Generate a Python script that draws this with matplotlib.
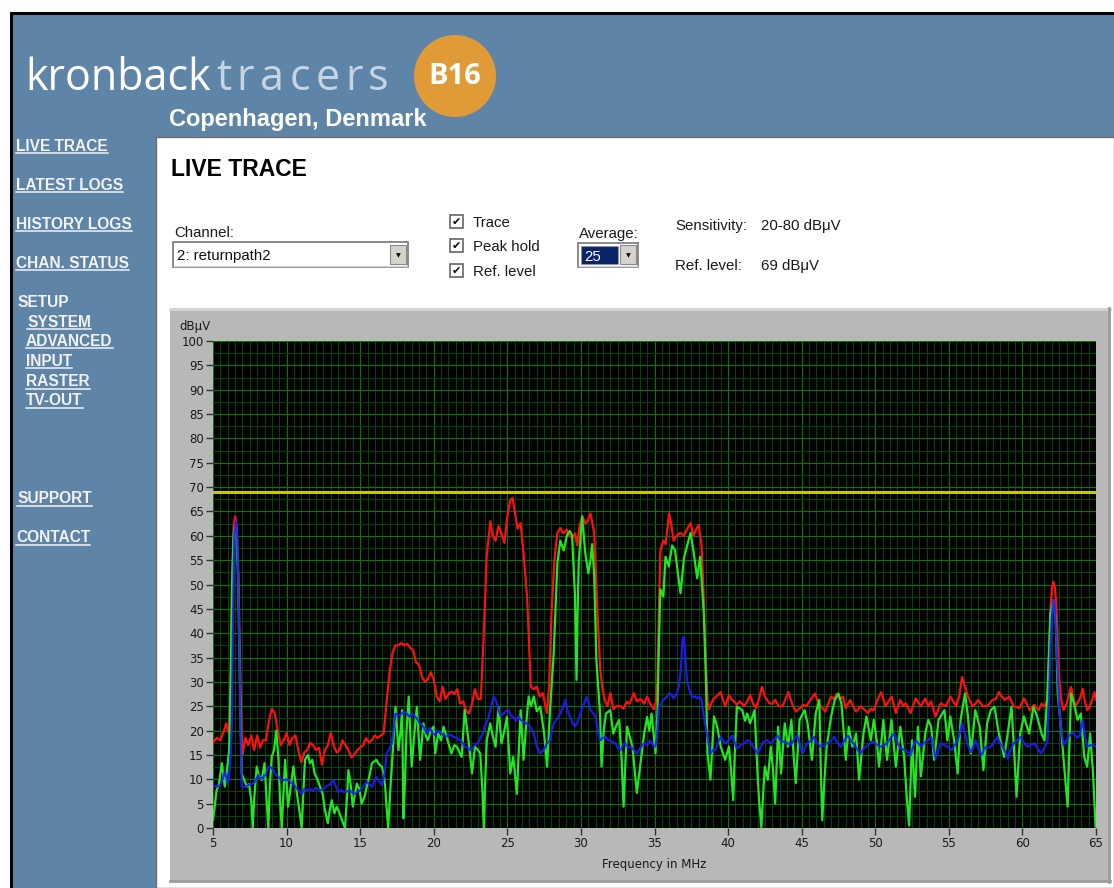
import matplotlib
matplotlib.use('Agg')
import numpy as np
import matplotlib.pyplot as plt
from matplotlib.patches import Rectangle, Circle
from matplotlib.ticker import MultipleLocator

# ---- values ----
ref_level = 69
sensitivity = (20, 80)
channel_name = "2: returnpath2"
average_count = 25

x_ticks = list(range(5, 66, 5))
y_ticks = list(range(0, 101, 5))

# peak hold (red), (MHz, dBuV)
peak_hold = [
    (5.0, 17.5), (5.25, 18.5), (5.5, 18), (5.75, 20), (5.9, 21.5), (6.0, 20), (6.1, 19.5), (6.2, 30),
    (6.3, 52), (6.4, 62), (6.5, 64), (6.6, 62), (6.7, 55), (6.8, 40), (6.9, 25), (7.0, 15),
    (7.2, 18.5), (7.4, 17), (7.6, 19), (7.8, 16), (8.0, 19), (8.2, 16.5), (8.4, 18), (8.6, 18),
    (8.8, 22), (9.0, 24.5), (9.2, 23.5), (9.4, 20), (9.6, 17), (9.8, 18), (10.0, 19.5), (10.2, 17),
    (10.4, 18.5), (10.6, 19), (10.8, 16), (11.0, 13.5), (11.2, 15.5), (11.4, 16), (11.6, 17.5), (11.8, 17),
    (12.0, 16), (12.2, 16.5), (12.4, 13), (12.6, 16), (12.8, 17), (13.0, 19.5), (13.2, 17), (13.4, 15.5),
    (13.6, 16), (13.8, 18), (14.0, 17), (14.2, 16), (14.4, 14.5), (14.6, 15), (14.8, 16), (15.0, 16.5),
    (15.2, 17), (15.4, 18.5), (15.6, 17.5), (15.8, 18), (16.0, 19), (16.2, 18.5), (16.4, 19), (16.6, 19.5),
    (16.8, 26), (17.0, 32), (17.2, 36), (17.4, 37.5), (17.6, 37.5), (17.8, 38), (18.0, 37.5), (18.2, 37.8),
    (18.4, 37), (18.6, 36.5), (18.8, 34), (19.0, 33.5), (19.2, 31), (19.4, 30), (19.6, 30.5), (19.8, 32),
    (20.0, 30.5), (20.2, 27), (20.4, 26), (20.6, 29), (20.8, 26.5), (21.0, 27.5), (21.2, 28), (21.4, 27.5),
    (21.6, 28.5), (21.8, 25.5), (22.0, 26), (22.2, 24), (22.4, 23.5), (22.6, 25.5), (22.8, 28.5), (23.0, 26.5),
    (23.2, 26.5), (23.4, 40), (23.6, 56), (23.85, 63), (24.0, 60), (24.2, 59), (24.4, 62), (24.6, 60.5),
    (24.8, 58.5), (25.0, 64), (25.2, 67.3), (25.35, 67.8), (25.5, 65), (25.7, 61.5), (25.9, 62.6), (26.1, 56.5),
    (26.35, 47), (26.6, 29), (26.8, 28.5), (27.0, 29), (27.2, 27), (27.4, 27.7), (27.7, 23.6), (27.85, 30),
    (28.0, 44), (28.2, 55), (28.4, 60.6), (28.6, 61.6), (28.8, 60.5), (29.05, 61.3), (29.2, 60), (29.4, 59.6),
    (29.6, 60.5), (29.75, 58), (29.9, 62), (30.1, 64), (30.3, 62.5), (30.45, 63), (30.65, 64.6), (30.9, 60.6),
    (31.1, 46), (31.3, 33), (31.45, 29), (31.6, 26.5), (31.8, 25), (32.0, 27.7), (32.2, 24.4), (32.4, 25),
    (32.7, 25), (32.9, 24.5), (33.1, 25.9), (33.3, 25.5), (33.6, 27.7), (33.8, 26), (34.05, 26.5), (34.3, 25.5),
    (34.5, 27), (34.7, 25.5), (34.95, 24.4), (35.1, 26), (35.2, 30.4), (35.3, 45), (35.4, 57), (35.6, 59),
    (35.75, 58.3), (36.0, 64.6), (36.15, 62), (36.3, 59), (36.5, 60), (36.75, 60.6), (37.0, 60), (37.2, 61.3),
    (37.45, 62.6), (37.65, 60), (37.85, 61.5), (38.0, 62.2), (38.2, 58), (38.35, 47), (38.45, 37), (38.6, 26),
    (38.7, 24.4), (38.85, 25.5), (39.0, 26.5), (39.2, 27), (39.5, 27.9), (39.8, 25), (40.06, 27.3), (40.2, 26.5),
    (40.4, 26), (40.6, 25.3), (40.8, 26), (41.1, 25), (41.3, 26), (41.5, 27.3), (41.7, 25.5), (41.9, 24.6),
    (42.1, 26.5), (42.3, 29), (42.5, 27), (42.8, 25.6), (43.0, 25.5), (43.2, 26.3), (43.45, 25), (43.7, 25),
    (43.9, 26.5), (44.1, 27.9), (44.35, 25.5), (44.6, 23.9), (44.9, 24.6), (45.1, 25.3), (45.3, 25), (45.6, 26.3),
    (45.9, 27.6), (46.1, 26), (46.3, 25), (46.6, 23.9), (46.8, 25.5), (47.0, 27), (47.2, 26.5), (47.4, 27.6),
    (47.6, 26.5), (47.8, 27), (48.0, 24.6), (48.3, 26.3), (48.5, 25), (48.7, 23.9), (49.0, 25), (49.2, 24.5),
    (49.5, 23.6), (49.7, 24.5), (49.9, 24.2), (50.1, 26), (50.4, 27.9), (50.7, 25), (50.9, 26), (51.1, 27),
    (51.4, 23.6), (51.7, 26.3), (51.9, 25), (52.07, 25.6), (52.4, 23.6), (52.75, 26.6), (53.1, 25), (53.4, 26.6),
    (53.6, 25), (53.8, 26), (54.1, 22.9), (54.45, 25.6), (54.8, 25), (55.1, 27), (55.3, 26), (55.5, 25),
    (55.7, 27), (55.9, 31), (56.1, 29), (56.3, 27), (56.6, 25), (56.8, 25.5), (57.0, 26.3), (57.3, 25),
    (57.6, 25), (57.97, 26.3), (58.2, 26.5), (58.4, 27.9), (58.6, 27), (58.8, 26.3), (59.1, 27), (59.4, 25),
    (59.8, 24.6), (60.1, 26.6), (60.3, 25.5), (60.5, 24.2), (60.8, 25.3), (61.1, 24.2), (61.3, 25.5), (61.5, 25),
    (61.7, 26.3), (61.8, 35), (61.9, 44.8), (62.0, 49), (62.1, 50.6), (62.2, 49.5), (62.3, 46), (62.4, 38),
    (62.5, 31), (62.65, 26), (62.8, 24.2), (63.0, 25.5), (63.3, 29), (63.45, 27), (63.6, 25), (63.9, 26.5),
    (64.1, 28.6), (64.25, 26), (64.4, 24.2), (64.6, 25), (64.9, 27.9), (65.0, 26.3),
]

# live trace (green)
trace = [
    (5.0, 1.7), (5.1, 4), (5.24, 7.7), (5.4, 9), (5.6, 13.3), (5.8, 8.5), (6.0, 13.3), (6.1, 16),
    (6.2, 30), (6.3, 50), (6.4, 60), (6.5, 62), (6.6, 60), (6.7, 52), (6.8, 35), (6.9, 18),
    (6.95, 11.2), (7.1, 10), (7.3, 8.5), (7.45, 9), (7.6, 5.7), (7.7, 0), (7.8, 6), (7.97, 12.6),
    (8.1, 11), (8.3, 9.8), (8.5, 13.3), (8.6, 8), (8.76, 0), (8.85, 8), (8.99, 14.7), (9.15, 16),
    (9.3, 20), (9.45, 14), (9.55, 6), (9.67, 0), (9.8, 8), (9.9, 14), (10.1, 4.4), (10.3, 9),
    (10.46, 12.6), (10.7, 7.1), (10.85, 4), (11.03, 0), (11.15, 8), (11.25, 14), (11.45, 15), (11.6, 13.3),
    (11.75, 14), (11.9, 11.2), (12.1, 10), (12.27, 8.5), (12.45, 7), (12.6, 3.8), (12.8, 1), (12.95, 4),
    (13.07, 5.7), (13.25, 3), (13.4, 4.4), (13.6, 3), (13.75, 1.7), (13.97, 0), (14.1, 6), (14.2, 11.9),
    (14.35, 9), (14.5, 4.4), (14.65, 7), (14.77, 9.1), (14.95, 8), (15.1, 5), (15.3, 6.5), (15.45, 8.5),
    (15.65, 11), (15.8, 13.3), (16.1, 14), (16.3, 13), (16.47, 12.6), (16.6, 11), (16.7, 8.5), (16.8, 4),
    (16.9, 0), (17.05, 8), (17.15, 12.6), (17.3, 20), (17.4, 24.9), (17.6, 16), (17.75, 20), (17.85, 24.2),
    (17.94, 2), (18.05, 10), (18.15, 20), (18.3, 27), (18.5, 12.6), (18.7, 20), (18.85, 24.9), (19.07, 14),
    (19.3, 21.5), (19.45, 19), (19.6, 18), (19.8, 20), (19.98, 20.8), (20.1, 15.3), (20.3, 19.4), (20.5, 18),
    (20.66, 20.8), (20.85, 19), (21.0, 17.4), (21.2, 15.3), (21.4, 17), (21.57, 16.7), (21.75, 15.5), (21.9, 14.6),
    (22.1, 24.2), (22.36, 18), (22.6, 11.2), (22.8, 16.7), (23.0, 16), (23.16, 15.3), (23.3, 8), (23.4, 0),
    (23.5, 10), (23.6, 18), (23.84, 21.5), (24.0, 19), (24.2, 16.7), (24.4, 24.9), (24.6, 17.4), (24.8, 20),
    (24.97, 22.8), (25.2, 11.2), (25.4, 14.6), (25.65, 7), (25.9, 24.2), (26.1, 14), (26.3, 22), (26.45, 27),
    (26.6, 25), (26.8, 27), (27.0, 24), (27.24, 24.9), (27.5, 19.4), (27.7, 12.6), (27.9, 24.2), (28.15, 35.8),
    (28.4, 54.4), (28.6, 59), (28.83, 57), (29.06, 60.2), (29.25, 61), (29.4, 60), (29.6, 47.5), (29.7, 30.4),
    (29.78, 45), (29.85, 54.4), (30.08, 64), (30.3, 56.4), (30.5, 52.3), (30.65, 55), (30.76, 58.3), (30.9, 52),
    (31.0, 40.6), (31.05, 34.5), (31.2, 28), (31.3, 23.5), (31.4, 12.6), (31.55, 20), (31.7, 23.5), (32.0, 24.2),
    (32.2, 19.4), (32.4, 21), (32.6, 22.2), (32.75, 15), (32.9, 4.4), (33.0, 12), (33.14, 20.8), (33.3, 19),
    (33.5, 16.7), (33.65, 12), (33.8, 7.2), (34.05, 13.3), (34.3, 19.4), (34.5, 22.8), (34.65, 20), (34.8, 23.5),
    (35.07, 15.3), (35.2, 23.5), (35.3, 38), (35.4, 49), (35.6, 47.5), (35.75, 55.7), (35.97, 53.7), (36.2, 58),
    (36.4, 57), (36.6, 52), (36.77, 48.2), (37.0, 55.4), (37.2, 57.8), (37.45, 60.6), (37.67, 56.4), (37.9, 51.3),
    (38.1, 55.7), (38.35, 44), (38.5, 30), (38.6, 15.3), (38.8, 9.9), (39.04, 22.9), (39.26, 20.8), (39.5, 16.7),
    (39.8, 14), (40.06, 16.7), (40.2, 12), (40.35, 5.7), (40.45, 15), (40.6, 24.9), (40.96, 24.2), (41.15, 22),
    (41.3, 23.5), (41.5, 21.5), (41.8, 24.2), (42.0, 11.2), (42.1, 6), (42.26, 0.2), (42.4, 8), (42.5, 12.6),
    (42.7, 9.9), (42.9, 16.7), (43.05, 12), (43.2, 5), (43.4, 20.8), (43.6, 11.2), (43.85, 21.5), (44.07, 16.7),
    (44.3, 22.2), (44.45, 15), (44.6, 9.2), (44.86, 22.2), (45.2, 24.2), (45.4, 21.5), (45.7, 14), (45.95, 23.5),
    (46.2, 26.3), (46.3, 12), (46.4, 1.6), (46.55, 10), (46.7, 16.7), (47.0, 22.9), (47.25, 26.3), (47.5, 27.6),
    (47.7, 25.6), (47.85, 20), (48.0, 14), (48.2, 20.8), (48.45, 16.7), (48.7, 19.4), (48.9, 9.9), (49.2, 19.4),
    (49.4, 22.9), (49.7, 18), (49.9, 22.2), (50.1, 18), (50.26, 12.6), (50.55, 22.2), (50.8, 14), (51.1, 22.2),
    (51.4, 12.6), (51.7, 20.8), (51.96, 14.6), (52.15, 6), (52.3, 0.5), (52.5, 18), (52.7, 6.4), (52.9, 20.8),
    (53.1, 10.6), (53.4, 19.4), (53.6, 22.2), (53.8, 20.8), (54.0, 14), (54.3, 22.2), (54.7, 24.2), (54.9, 18),
    (55.1, 22.9), (55.36, 18), (55.6, 11.2), (55.8, 22.2), (56.1, 27.6), (56.3, 22.9), (56.5, 15.3), (56.8, 24.2),
    (57.1, 20.8), (57.35, 11.9), (57.6, 21.5), (57.85, 24.2), (58.1, 24.9), (58.4, 19.4), (58.76, 14.6), (59.0, 19.4),
    (59.26, 24.9), (59.45, 15), (59.6, 6.4), (59.85, 19.4), (60.1, 22.9), (60.46, 19.4), (60.75, 24.9), (61.0, 22.9),
    (61.3, 19.4), (61.5, 18), (61.7, 27.6), (61.9, 44), (62.1, 46.8), (62.27, 42.7), (62.4, 27.6), (62.6, 21.5),
    (62.8, 14), (63.07, 4.4), (63.3, 27.6), (63.5, 25.6), (63.75, 22.2), (63.97, 23.5), (64.2, 14.6), (64.4, 12.6),
    (64.6, 19.4), (64.8, 11.2), (64.97, 0.3),
]

# average (blue)
average = [
    (5.0, 8.8), (5.25, 8.5), (5.5, 8.8), (5.65, 10), (5.8, 11.6), (6.0, 9.1), (6.15, 12), (6.27, 19.4),
    (6.35, 40), (6.45, 60), (6.55, 63), (6.65, 60), (6.75, 45), (6.85, 25), (6.95, 8.5), (7.2, 8.5),
    (7.4, 8.8), (7.6, 9), (7.85, 9.5), (8.08, 10.9), (8.25, 10), (8.4, 10.5), (8.6, 11), (8.76, 12.6),
    (8.9, 12.5), (9.1, 11.9), (9.25, 11), (9.44, 10.5), (9.6, 10), (9.78, 9.8), (10.0, 10), (10.2, 9.5),
    (10.45, 9), (10.7, 8.1), (10.9, 7.5), (11.03, 7), (11.2, 8), (11.37, 7.7), (11.6, 8), (11.8, 7.7),
    (12.0, 8.2), (12.27, 7.7), (12.5, 8), (12.7, 8.5), (12.95, 9), (13.18, 9.8), (13.35, 8.5), (13.5, 7.4),
    (13.7, 7.8), (13.86, 7.4), (14.1, 7.5), (14.3, 7.7), (14.5, 7.2), (14.65, 7), (14.85, 7.5), (15.0, 7.7),
    (15.2, 8.5), (15.45, 9.5), (15.6, 9), (15.8, 8.5), (15.95, 9.5), (16.1, 10.5), (16.3, 9.5), (16.47, 8.8),
    (16.65, 11), (16.8, 15.3), (16.95, 16), (17.15, 17.4), (17.3, 21), (17.4, 23.5), (17.55, 23), (17.7, 23.2),
    (17.95, 23.8), (18.17, 23.5), (18.35, 22.8), (18.5, 23.5), (18.7, 23), (18.85, 22.5), (19.05, 21.5), (19.3, 20.8),
    (19.5, 19.5), (19.75, 20.5), (19.9, 19.5), (20.1, 19.1), (20.25, 20), (20.4, 19.8), (20.65, 19), (20.9, 18.8),
    (21.1, 19.2), (21.3, 18.8), (21.55, 18.5), (21.8, 18), (21.95, 17.5), (22.1, 16.7), (22.3, 16.5), (22.5, 16),
    (22.65, 16.5), (22.8, 17), (23.0, 17.5), (23.16, 18.4), (23.35, 19.5), (23.5, 21.1), (23.7, 22.5), (23.84, 24.2),
    (24.07, 27), (24.25, 26), (24.4, 24.2), (24.55, 23), (24.75, 23.5), (24.9, 24), (25.1, 24.2), (25.25, 23),
    (25.4, 22.8), (25.6, 22), (25.75, 23), (25.9, 22.2), (26.1, 21.8), (26.3, 21.5), (26.5, 21), (26.65, 20.2),
    (26.8, 19.4), (27.0, 16.7), (27.24, 15.3), (27.45, 16), (27.7, 17.4), (27.9, 18), (28.15, 21.5), (28.4, 22.5),
    (28.6, 23.5), (28.8, 25), (28.95, 26.3), (29.1, 24), (29.3, 22.5), (29.45, 21.5), (29.6, 20.8), (29.8, 22),
    (29.96, 23.5), (30.2, 25.5), (30.4, 26.9), (30.55, 25.5), (30.65, 24.2), (30.85, 23.5), (31.0, 22.8), (31.15, 20),
    (31.3, 18), (31.5, 18.5), (31.7, 18.7), (31.85, 18), (32.0, 18), (32.2, 17.5), (32.35, 17.4), (32.5, 16.5),
    (32.7, 16), (32.85, 17), (33.0, 17.4), (33.2, 16.5), (33.4, 16.7), (33.6, 16), (33.8, 15.3), (34.05, 16.5),
    (34.3, 17.4), (34.5, 17), (34.7, 18), (34.9, 17), (35.07, 16.7), (35.2, 20), (35.3, 24.9), (35.45, 25.5),
    (35.6, 26.3), (35.8, 26.8), (35.97, 27.6), (36.15, 27.4), (36.3, 26.6), (36.5, 27.5), (36.65, 29), (36.8, 33),
    (36.9, 38.6), (37.0, 39.3), (37.1, 35), (37.2, 30.4), (37.4, 28), (37.56, 26.9), (37.75, 27), (37.9, 26.6),
    (38.05, 27), (38.2, 26.3), (38.4, 22), (38.6, 18.7), (38.8, 15.3), (38.95, 16), (39.15, 16), (39.3, 17.5),
    (39.5, 18.7), (39.65, 18), (39.8, 17.4), (40.05, 18), (40.3, 19), (40.45, 17.5), (40.6, 16.3), (40.85, 17),
    (41.1, 17.4), (41.3, 18), (41.5, 17.7), (41.75, 16.5), (42.0, 15.3), (42.2, 16.5), (42.4, 17.7), (42.65, 18),
    (42.9, 17.4), (43.1, 18), (43.35, 19), (43.55, 18), (43.8, 17.7), (44.0, 17.5), (44.25, 17), (44.45, 18),
    (44.7, 19), (44.9, 17), (45.05, 15.3), (45.3, 17), (45.5, 17.7), (45.7, 18), (45.84, 18.7), (46.05, 17.5),
    (46.3, 16.7), (46.55, 17), (46.75, 17.4), (47.0, 18), (47.2, 18.7), (47.45, 17.5), (47.65, 16.7), (47.9, 18),
    (48.1, 19), (48.35, 18), (48.6, 17), (48.8, 16), (49.0, 15.3), (49.25, 16.5), (49.5, 17), (49.7, 17.5),
    (49.9, 17.7), (50.15, 17), (50.4, 16.7), (50.6, 17), (50.8, 17.4), (51.05, 18.5), (51.3, 19.4), (51.5, 17.5),
    (51.73, 16.3), (52.07, 16), (52.4, 15), (52.55, 16.5), (52.75, 18), (52.9, 17.5), (53.1, 16.7), (53.4, 17.7),
    (53.6, 18), (53.8, 18.7), (54.0, 16), (54.1, 14.3), (54.3, 16), (54.45, 17.4), (54.7, 17), (54.9, 16.7),
    (55.2, 16), (55.4, 17), (55.6, 18), (55.75, 19.5), (55.9, 21.5), (56.15, 18.7), (56.3, 17), (56.5, 15.6),
    (56.65, 16.5), (56.8, 18), (57.0, 16.5), (57.2, 15), (57.5, 16.7), (57.7, 16.5), (57.85, 16.7), (58.05, 17.5),
    (58.3, 18.7), (58.45, 17.5), (58.65, 16.7), (58.85, 15.5), (59.0, 14.3), (59.2, 16), (59.4, 17.4), (59.65, 18),
    (59.9, 18.7), (60.1, 17.5), (60.35, 16.7), (60.55, 17), (60.8, 17.4), (61.0, 16.5), (61.25, 15.3), (61.5, 16.5),
    (61.7, 17.7), (61.8, 25), (61.9, 36.5), (62.0, 43), (62.1, 46.8), (62.2, 45), (62.27, 41.3), (62.4, 32),
    (62.5, 24.2), (62.65, 20), (62.8, 17), (63.0, 18), (63.2, 19), (63.35, 19.5), (63.5, 19.4), (63.7, 18.5),
    (63.9, 19), (64.1, 22.2), (64.25, 19), (64.4, 16.7), (64.6, 17), (64.8, 17), (65.0, 16.7),
]

# ---- page layout (pixel coordinates) ----
W, H = 1114, 888
BLUE = '#5e84a8'
BOLD = dict(family='Liberation Sans', weight='bold')
REG = dict(family='Liberation Sans')
INK = '#1a1a1a'

fig = plt.figure(figsize=(W / 100, H / 100), dpi=100)
fig.patch.set_facecolor('white')
bg = fig.add_axes([0, 0, 1, 1])
bg.set_xlim(0, W)
bg.set_ylim(H, 0)
bg.axis('off')
rend = fig.canvas.get_renderer()
inv = bg.transData.inverted()


def text_width(t):
    bb = t.get_window_extent(rend)
    return inv.transform((bb.x1, 0))[0] - inv.transform((bb.x0, 0))[0]


def spaced_text(x, y, s, gap, **kw):
    # draws a word letter by letter with extra tracking, like the logo
    for ch in s:
        t = bg.text(x, y, ch, **kw)
        x += text_width(t) + gap


# header / nav background with the black frame
bg.add_patch(Rectangle((10, 12), W - 10, H - 12, fc=BLUE, ec='none'))
bg.plot([11, 11], [12, H], color='black', lw=2.2, solid_capstyle='butt')
bg.plot([10, W], [13, 13], color='black', lw=2.2, solid_capstyle='butt')
# white content box
bg.add_patch(Rectangle((156, 137), W - 156, H - 137, fc='white', ec='#6f6f6f', lw=1))

# logo
bg.text(25, 90, 'kronback', color='white', fontsize=31, family='Open Sans', va='baseline')
spaced_text(216, 90, 'tracers', 5.5, color='#c7d4e1', fontsize=31, family='Open Sans',
            va='baseline')
bg.add_patch(Circle((455, 76), 41, fc='#e09a36', ec='none'))
bg.text(455, 77, 'B16', color='white', fontsize=21, family='Open Sans', weight='bold',
        ha='center', va='center')
bg.text(169, 126, 'Copenhagen, Denmark', color='white', fontsize=17, va='baseline', **BOLD)

# navigation
nav = [('LIVE TRACE', 16, 151, True), ('LATEST LOGS', 16, 190, True),
       ('HISTORY LOGS', 16, 229, True), ('CHAN. STATUS', 16, 268, True),
       ('SETUP', 17, 307, False), ('SYSTEM', 27, 327, True), ('ADVANCED', 26, 346, True),
       ('INPUT', 26, 366, True), ('RASTER', 26, 386, True), ('TV-OUT', 26, 405, True),
       ('SUPPORT', 17, 503, True), ('CONTACT', 16, 542, True)]
for label, x, y, ul in nav:
    t = bg.text(x, y, label, color='#f2f2f2', fontsize=11.2, va='baseline', **BOLD)
    if ul:
        bg.plot([x, x + text_width(t)], [y + 2.5, y + 2.5], color='#f2f2f2', lw=1.1)

# controls
bg.text(171, 176, 'LIVE TRACE', color='black', fontsize=16.5, va='baseline', **BOLD)
bg.text(174, 237, 'Channel:', color=INK, fontsize=10.8, va='baseline', **REG)


def field(x0, y0, x1, y1):
    bg.add_patch(Rectangle((x0, y0), x1 - x0, y1 - y0, fc='white', ec='#777777', lw=1.2))
    bg.plot([x0 + 1, x1 - 1], [y1 - 1, y1 - 1], color='#d8d8d8', lw=1)


def arrow_button(x0, y0, x1, y1):
    bg.add_patch(Rectangle((x0, y0), x1 - x0, y1 - y0, fc='#d6d3ce', ec='#8a8a8a', lw=0.8))
    bg.text((x0 + x1) / 2, (y0 + y1) / 2 + 1, '\u25BC', fontsize=4.5, color='black',
            ha='center', va='center', family='DejaVu Sans')


field(173, 242, 408, 267)
arrow_button(390, 245, 406, 264)
bg.text(177, 260, channel_name, color='#111111', fontsize=10.8, va='baseline', **REG)

for lbl, yc in [('Trace', 221), ('Peak hold', 245), ('Ref. level', 270)]:
    bg.add_patch(Rectangle((450, yc - 6.5), 13, 13, fc='white', ec='#666666', lw=1.2))
    bg.text(456.5, yc + 0.5, '\u2714', fontsize=8, color='black', ha='center', va='center',
            family='DejaVu Sans')
    bg.text(473, yc + 6, lbl, color=INK, fontsize=10.8, va='baseline', **REG)

bg.text(579, 238, 'Average:', color=INK, fontsize=10.8, va='baseline', **REG)
field(578, 243, 638, 267)
bg.add_patch(Rectangle((581, 246), 37, 18, fc='#0a246a', ec='#9a9a9a', lw=0.8, ls=':'))
bg.text(584, 261, str(average_count), color='white', fontsize=10.8, va='baseline', **REG)
arrow_button(620, 245, 636, 264)

bg.text(675, 230, 'Sensitivity:', color=INK, fontsize=10.8, va='baseline', **REG)
bg.text(761, 230, f'{sensitivity[0]}-{sensitivity[1]} dB\u03bcV', color=INK,
        fontsize=10.8, va='baseline', **REG)
bg.text(675, 270, 'Ref. level:', color=INK, fontsize=10.8, va='baseline', **REG)
bg.text(761, 270, f'{ref_level} dB\u03bcV', color=INK, fontsize=10.8, va='baseline', **REG)

# gray graph panel
bg.add_patch(Rectangle((170, 308), 940, 574, fc='#b8b8b8', ec='none'))
bg.plot([170, 1110], [309, 309], color='#d6d6d6', lw=2)
bg.plot([1109, 1109], [308, 882], color='#9c9c9c', lw=2)
bg.plot([170, 1110], [881, 881], color='#9c9c9c', lw=2)
bg.text(179, 326, 'dB\u03bcV', color=INK, fontsize=8.5, va='center', family='DejaVu Sans')

# ---- spectrum plot ----
ax = fig.add_axes([213 / W, 1 - 828 / H, 883 / W, 487 / H])
ax.set_facecolor('black')
ax.set_xlim(5, 65)
ax.set_ylim(0, 100)
ax.set_xticks(x_ticks)
ax.set_yticks(y_ticks)
ax.xaxis.set_minor_locator(MultipleLocator(0.5))
ax.yaxis.set_minor_locator(MultipleLocator(2.5))
ax.set_axisbelow(True)
ax.grid(which='minor', color='#034603', lw=0.72)
ax.grid(which='major', color='#097609', lw=0.8)
ax.tick_params(which='minor', length=0)
ax.tick_params(which='major', length=5, width=1, color='#333333', labelsize=8.5,
               labelcolor=INK, pad=1.5)
for s in ax.spines.values():
    s.set_visible(False)
ax.set_xlabel('Frequency in MHz', fontsize=8.5, color=INK, labelpad=6)

ax.axhline(ref_level, color='#c8c800', lw=2.2, zorder=3)
f, v = np.array(peak_hold).T
ax.plot(f, v, color='#ff1010', lw=1.6, zorder=4)
f, v = np.array(trace).T
ax.plot(f, v, color='#22e622', lw=1.6, zorder=5)
f, v = np.array(average).T
ax.plot(f, v, color='#1e1eff', lw=1.6, alpha=0.9, zorder=6)

fig.savefig('out.png', dpi=100)
